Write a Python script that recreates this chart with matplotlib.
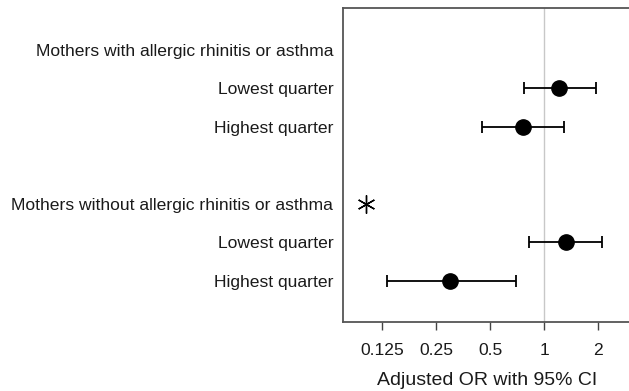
import matplotlib
matplotlib.use("Agg")
import matplotlib.pyplot as plt
import numpy as np

plt.rcParams['font.family'] = ['Liberation Sans', 'DejaVu Sans']

# rows, top to bottom
labels = ["Mothers with allergic rhinitis or asthma", "Lowest quarter", "Highest quarter", "",
          "Mothers without allergic rhinitis or asthma", "Lowest quarter", "Highest quarter"]
or_est = [np.nan, 1.21, 0.76, np.nan, np.nan, 1.33, 0.30]
ci_low = [np.nan, 0.77, 0.45, np.nan, np.nan, 0.82, 0.132]
ci_high = [np.nan, 1.95, 1.29, np.nan, np.nan, 2.10, 0.70]
ref_row = 4        # reference group marked with an asterisk
ref_x = 0.102

xticks = [0.125, 0.25, 0.5, 1, 2]
xticklabels = ["0.125", "0.25", "0.5", "1", "2"]

fig = plt.figure(figsize=(6.29, 3.91), dpi=100)
ax = fig.add_axes([343 / 629, 1 - 322 / 391, 288 / 629, 314 / 391])

y = np.arange(len(labels))
est = np.array(or_est)
lo = np.array(ci_low)
hi = np.array(ci_high)
ok = ~np.isnan(est)

ax.axvline(1, color="#c8c8c8", lw=1, zorder=0)
ax.errorbar(est[ok], y[ok], xerr=[est[ok] - lo[ok], hi[ok] - est[ok]], fmt="o",
            color="black", ms=11, lw=1.3, capsize=4.5, capthick=1.3)
ax.plot([ref_x], [ref_row], marker=(6, 2, 0), color="black", ms=13, mew=1.0, ls="none")

ax.set_xscale("log", base=2)
ax.set_xlim(0.0755, 3.05)
ax.set_ylim(len(labels) - 1 + 1.07, -1.09)
ax.set_xticks(xticks)
ax.set_xticklabels(xticklabels)
ax.minorticks_off()
ax.set_yticks(y)
ax.set_yticklabels(labels, color="#1a1a1a")
ax.tick_params(axis="y", length=0, pad=7, labelsize=12.6)
ax.tick_params(axis="x", length=6, width=1, color="#444444", pad=9, labelsize=12.6,
               labelcolor="#1a1a1a")
ax.set_xlabel("Adjusted OR with 95% CI", fontsize=14, labelpad=10, color="#1a1a1a")

for s in ax.spines.values():
    s.set_color("#555555")
    s.set_linewidth(1.3)

fig.savefig("out.png", dpi=100)
